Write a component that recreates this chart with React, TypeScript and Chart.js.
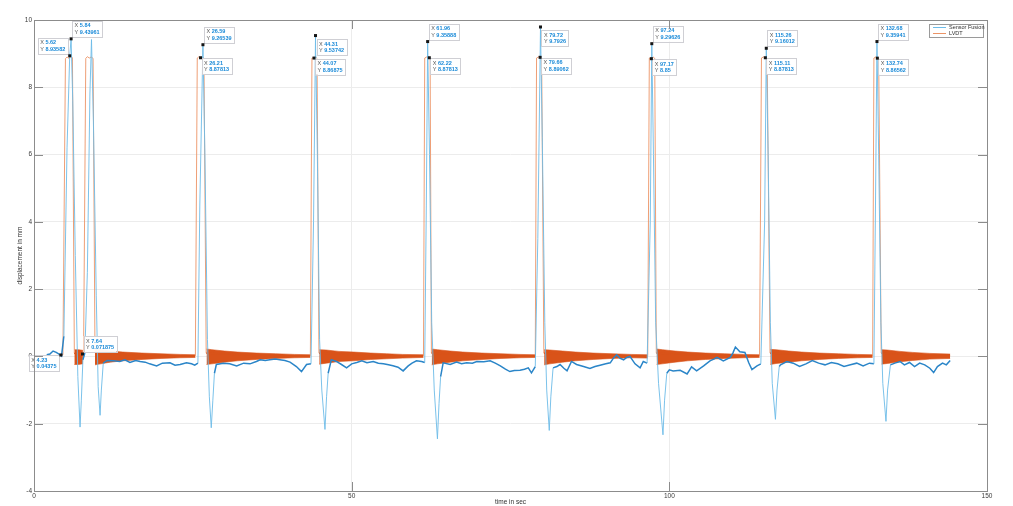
import React, { useEffect, useRef } from 'react';
import { Chart, registerables } from 'chart.js';

Chart.register(...registerables);

const FONT = "'Liberation Sans', Arial, sans-serif";

// Sensor Fusion trace (time in s, displacement in mm)
const sensorT = [
  2.0, 2.5, 3.0, 3.5, 4.0, 4.33, 4.7, 5.2, 5.62, 5.84, 6.1, 6.5, 6.9, 7.25, 7.45, 7.7, 8.0, 8.4, 8.8, 9.05,
  9.35, 9.8, 10.1, 10.4, 10.6, 10.9, 11.5, 12.5, 13.5, 14.3, 15.1, 16.0, 16.7, 17.5, 18.2, 19.3, 20.2, 21.4, 22.2, 23.0,
  24.0, 24.8, 25.3, 25.8, 26.1, 26.59, 26.9, 27.3, 27.6, 27.9, 28.15, 28.4, 28.7, 29.8, 30.8, 31.9, 33.0, 34.0, 35.0, 35.6,
  36.4, 37.1, 38.0, 38.7, 39.5, 40.3, 41.3, 42.1, 42.9, 43.6, 44.0, 44.31, 44.6, 44.95, 45.3, 45.8, 46.05, 46.3, 46.8, 47.6,
  48.4, 49.2, 50.0, 50.8, 51.6, 52.4, 53.4, 54.2, 55.0, 55.8, 56.5, 57.3, 58.1, 58.9, 59.5, 60.2, 61.0, 61.5, 61.75, 61.96,
  62.25, 62.6, 63.0, 63.5, 63.75, 64.0, 64.4, 65.5, 66.5, 67.3, 68.1, 69.0, 69.7, 70.8, 71.8, 72.6, 73.4, 74.2, 74.9, 75.6,
  76.5, 77.2, 77.8, 78.3, 78.9, 79.3, 79.72, 80.0, 80.4, 80.7, 81.1, 81.35, 81.7, 82.3, 82.8, 83.4, 83.9, 84.6, 85.4, 86.5,
  87.5, 88.3, 89.1, 90.0, 90.7, 91.2, 91.7, 92.2, 92.8, 93.3, 93.8, 94.6, 95.4, 95.9, 96.5, 97.0, 97.24, 97.5, 97.85, 98.3,
  99.0, 99.25, 99.6, 100.0, 100.6, 101.7, 102.8, 103.5, 104.3, 105.4, 106.4, 107.0, 107.5, 108.5, 109.6, 110.0, 110.4, 111.1, 111.9, 112.5,
  113.0, 113.8, 114.4, 115.0, 115.26, 115.55, 115.9, 116.2, 116.7, 116.95, 117.3, 117.5, 118.5, 119.5, 120.5, 121.5, 122.5, 123.5, 124.5, 125.5,
  126.5, 127.5, 128.5, 129.5, 130.5, 131.5, 132.2, 132.45, 132.68, 132.95, 133.3, 133.6, 134.1, 134.35, 134.8, 135.5, 136.3, 137.0, 137.8, 138.6,
  139.4, 140.2, 141.0, 141.6, 142.2, 143.0, 143.6, 144.2,
];
const sensorV = [
  0.05, 0.07, 0.16, 0.12, 0.06, 0.01, 0.6, 6.2, 8.93582, 9.43961, 7.6, 3.0, -0.6, -2.1, -1.3, -0.1, 0.1, 2.5, 7.8, 9.42,
  7.0, 1.8, -0.9, -1.75, -1.0, -0.2, -0.12, -0.13, -0.15, -0.1, -0.18, -0.12, -0.15, -0.17, -0.22, -0.28, -0.2, -0.19, -0.26, -0.24,
  -0.19, -0.22, -0.26, -0.2, 4.5, 9.26539, 6.0, 0.5, -1.2, -2.12, -1.3, -0.5, -0.24, -0.2, -0.22, -0.28, -0.2, -0.22, -0.15, -0.1,
  -0.12, -0.1, -0.08, -0.1, -0.12, -0.17, -0.3, -0.45, -0.24, -0.22, 4.0, 9.53742, 6.0, 0.5, -1.0, -2.17, -1.2, -0.5, -0.1, -0.15,
  -0.24, -0.34, -0.22, -0.18, -0.13, -0.19, -0.15, -0.2, -0.22, -0.25, -0.28, -0.32, -0.43, -0.28, -0.2, -0.13, -0.15, -0.18, 4.5, 9.35888,
  6.0, 1.0, -1.0, -2.45, -1.4, -0.6, -0.19, -0.24, -0.17, -0.22, -0.19, -0.2, -0.15, -0.16, -0.13, -0.2, -0.28, -0.38, -0.45, -0.42,
  -0.41, -0.38, -0.34, -0.49, -0.3, 3.5, 9.7926, 6.5, 1.0, -1.0, -2.2, -1.2, -0.34, -0.3, -0.24, -0.35, -0.43, -0.15, -0.24, -0.3,
  -0.36, -0.3, -0.26, -0.22, -0.19, -0.05, 0.05, -0.05, -0.1, -0.03, 0.0, -0.22, -0.34, -0.15, -0.2, 4.0, 9.29626, 6.0, 1.0, -0.8,
  -2.33, -1.3, -0.5, -0.4, -0.43, -0.41, -0.52, -0.31, -0.43, -0.28, -0.13, -0.08, -0.03, -0.13, -0.03, 0.1, 0.28, 0.14, 0.12, -0.19,
  -0.39, -0.28, -0.22, 4.0, 9.16012, 6.0, 1.0, -0.8, -1.87, -1.0, -0.3, -0.25, -0.15, -0.2, -0.3, -0.22, -0.12, -0.2, -0.25, -0.18,
  -0.22, -0.3, -0.25, -0.2, -0.28, -0.2, -0.22, 4.5, 9.35941, 6.0, 1.0, -0.8, -1.93, -1.0, -0.25, -0.2, -0.15, -0.25, -0.18, -0.3,
  -0.2, -0.25, -0.35, -0.48, -0.3, -0.2, -0.25, -0.12,
];

// LVDT trace (pulses and the mean line of the ringing)
const lvdtT = [
  4.23, 4.55, 4.95, 5.2, 5.5, 5.8, 6.05, 6.35, 7.0, 7.64, 7.8, 8.15, 8.4, 8.7, 9.0, 9.3, 9.6,
  17.0, 25.4, 25.7, 25.9, 26.21, 26.5, 26.75, 27.1,
  35.0, 43.5, 43.75, 44.07, 44.3, 44.55, 44.85,
  53.0, 61.3, 61.5, 61.8, 62.22, 62.35, 62.55,
  70.0, 78.9, 79.1, 79.4, 79.66, 79.9, 80.25,
  88.0, 96.6, 96.85, 97.17, 97.45, 97.7, 97.95,
  106.0, 114.2, 114.5, 114.8, 115.11, 115.4, 115.85,
  124.0, 132.0, 132.2, 132.5, 132.74, 132.95, 133.35,
  139.0, 144.2,
];
const lvdtV = [
  0.04375, 0.05, 8.85, 8.9, 8.86, 8.91, 8.88, 0.1, 0.0, 0.071875, 0.05, 8.86, 8.91, 8.87, 8.9, 8.86, 0.1,
  0.02, 0.02, 8.87, 8.9, 8.87813, 8.9, 8.86, 0.1,
  0.02, 0.02, 8.87, 8.86875, 8.9, 8.86, 0.1,
  0.02, 0.02, 8.87, 8.9, 8.87813, 8.86, 0.1,
  0.02, 0.02, 8.87, 8.9, 8.89062, 8.86, 0.1,
  0.02, 0.02, 8.87, 8.85, 8.9, 8.86, 0.1,
  0.02, 0.02, 8.87, 8.9, 8.87813, 8.86, 0.1,
  0.02, 0.02, 8.87, 8.9, 8.86562, 8.86, 0.1,
  0.02, 0.02,
];

// LVDT ringing envelope after each pulse (null = gap between bursts)
const bandT = [
  6.35, 7.0, 7.7, 8.5,
  9.6, 10.5, 12.0, 14.0, 17.0, 20.0, 23.0, 25.4, 26.0,
  27.15, 28.0, 30.0, 32.0, 35.0, 38.0, 41.0, 43.5, 44.0,
  44.9, 46.0, 48.0, 50.3, 53.0, 55.5, 58.0, 61.3, 62.0,
  62.6, 63.5, 65.5, 67.5, 70.5, 73.5, 76.5, 78.9, 79.5,
  80.3, 81.2, 83.2, 85.2, 88.0, 91.0, 94.0, 96.6, 97.2,
  98.0, 98.9, 100.9, 102.9, 105.7, 108.7, 111.7, 114.2, 115.0,
  115.9, 116.8, 118.8, 120.8, 123.6, 126.6, 129.6, 132.0, 132.7,
  133.4, 134.3, 136.3, 138.3, 141.0, 144.2,
];
const bandUp = [
  0.2, 0.2, 0.18, null,
  0.22, 0.2, 0.16, 0.13, 0.1, 0.08, 0.06, 0.05, null,
  0.22, 0.2, 0.16, 0.13, 0.1, 0.08, 0.06, 0.05, null,
  0.2, 0.19, 0.15, 0.13, 0.1, 0.08, 0.06, 0.05, null,
  0.22, 0.2, 0.16, 0.13, 0.1, 0.08, 0.06, 0.05, null,
  0.2, 0.19, 0.16, 0.13, 0.1, 0.08, 0.06, 0.05, null,
  0.22, 0.2, 0.16, 0.13, 0.1, 0.08, 0.06, 0.05, null,
  0.21, 0.2, 0.16, 0.13, 0.1, 0.08, 0.06, 0.05, null,
  0.2, 0.19, 0.15, 0.12, 0.09, 0.07,
];
const bandLo = [
  -0.24, -0.24, -0.22, null,
  -0.25, -0.22, -0.17, -0.13, -0.09, -0.06, -0.04, -0.03, null,
  -0.24, -0.22, -0.17, -0.13, -0.09, -0.06, -0.04, -0.03, null,
  -0.23, -0.2, -0.15, -0.13, -0.09, -0.07, -0.05, -0.03, null,
  -0.25, -0.22, -0.17, -0.13, -0.09, -0.06, -0.04, -0.03, null,
  -0.25, -0.22, -0.17, -0.13, -0.09, -0.06, -0.04, -0.05, null,
  -0.24, -0.22, -0.17, -0.13, -0.09, -0.06, -0.04, -0.03, null,
  -0.24, -0.21, -0.17, -0.13, -0.09, -0.06, -0.04, -0.03, null,
  -0.23, -0.21, -0.16, -0.12, -0.08, -0.06,
];

// Data tips
const tipX = [4.23, 5.62, 5.84, 7.64, 26.59, 26.21, 44.31, 44.07, 61.96, 62.22, 79.72, 79.66, 97.24, 97.17, 115.26, 115.11, 132.68, 132.74];
const tipY = [0.04375, 8.93582, 9.43961, 0.071875, 9.26539, 8.87813, 9.53742, 8.86875, 9.35888, 8.87813, 9.7926, 8.89062, 9.29626, 8.85, 9.16012, 8.87813, 9.35941, 8.86562];
const tipSide = ['bl', 'tl', 'tr', 'tr', 'tr', 'br', 'br', 'br', 'tr', 'br', 'br', 'br', 'tr', 'br', 'tr', 'br', 'tr', 'br'];

const xTicks = [0, 50, 100, 150];
const yTicks = [-4, -2, 0, 2, 4, 6, 8, 10];
const seriesNames = ['Sensor Fusion', 'LVDT'];
const xTitle = 'time in sec';
const yTitle = 'displacement in mm';

const BLUE_DARK = '#2a85c8';
const BLUE_LIGHT = '#6cbbe8';
const ORANGE = '#D95319';
const ORANGE_LIGHT = '#ec9466';

const near0 = (ctx: any) => Math.abs(ctx.p0.parsed.y) < 0.9 && Math.abs(ctx.p1.parsed.y) < 0.9;

const frame = {
  id: 'frame',
  afterDraw(chart: any) {
    const { ctx, chartArea: a, scales } = chart;
    ctx.save();
    ctx.strokeStyle = '#8c8c8c';
    ctx.lineWidth = 1;
    ctx.strokeRect(Math.round(a.left) + 0.5, Math.round(a.top) + 0.5, Math.round(a.right - a.left), Math.round(a.bottom - a.top));
    const tl = 9;
    ctx.beginPath();
    xTicks.forEach((v) => {
      const px = Math.round(scales.x.getPixelForValue(v)) + 0.5;
      ctx.moveTo(px, a.bottom); ctx.lineTo(px, a.bottom - tl);
      ctx.moveTo(px, a.top); ctx.lineTo(px, a.top + tl);
    });
    yTicks.forEach((v) => {
      const py = Math.round(scales.y.getPixelForValue(v)) + 0.5;
      ctx.moveTo(a.left, py); ctx.lineTo(a.left + tl, py);
      ctx.moveTo(a.right, py); ctx.lineTo(a.right - tl, py);
    });
    ctx.stroke();

    // legend box
    const bx = a.right - 58, by = a.top + 4, bw = 54, bh = 13;
    ctx.fillStyle = '#ffffff';
    ctx.fillRect(bx, by, bw, bh);
    ctx.strokeStyle = '#9a9a9a';
    ctx.strokeRect(bx + 0.5, by + 0.5, bw, bh);
    const colors = [BLUE_LIGHT, ORANGE_LIGHT];
    ctx.font = `5.5px ${FONT}`;
    ctx.textBaseline = 'middle';
    ctx.textAlign = 'left';
    seriesNames.forEach((name, i) => {
      const ry = by + 3.5 + i * 6;
      ctx.strokeStyle = colors[i];
      ctx.lineWidth = 1;
      ctx.beginPath();
      ctx.moveTo(bx + 4, ry); ctx.lineTo(bx + 17, ry);
      ctx.stroke();
      ctx.fillStyle = '#303030';
      ctx.fillText(name, bx + 20, ry);
    });
    ctx.restore();
  },
};

const tips = {
  id: 'tips',
  afterDatasetsDraw(chart: any) {
    const { ctx, scales } = chart;
    ctx.save();
    tipX.forEach((tx, i) => {
      const px = scales.x.getPixelForValue(tx);
      const py = scales.y.getPixelForValue(tipY[i]);
      const rows = [['X', String(tx)], ['Y', String(tipY[i])]];
      ctx.font = `5.5px ${FONT}`;
      const lw = ctx.measureText('X ').width;
      ctx.font = `bold 5.5px ${FONT}`;
      const vw = Math.max(...rows.map((r) => ctx.measureText(r[1]).width));
      const w = Math.round(lw + vw + 5);
      const h = 16;
      const side = tipSide[i];
      const bx = side[1] === 'r' ? px + 1 : px - 2 - w;
      const by = side[0] === 't' ? py - 2 - h : py + (tipY[i] > 9.4 ? 3.5 : 0.5);
      ctx.fillStyle = 'rgba(255,255,255,0.95)';
      ctx.fillRect(bx, by, w, h);
      ctx.strokeStyle = '#cfcfd4';
      ctx.lineWidth = 1;
      ctx.strokeRect(Math.round(bx) + 0.5, Math.round(by) + 0.5, w, h);
      ctx.textBaseline = 'middle';
      ctx.textAlign = 'left';
      rows.forEach((r, k) => {
        const ty = by + 5 + k * 6.5;
        ctx.font = `5.5px ${FONT}`;
        ctx.fillStyle = '#555555';
        ctx.fillText(r[0], bx + 2.5, ty);
        ctx.font = `bold 5.5px ${FONT}`;
        ctx.fillStyle = '#1a8ad8';
        ctx.fillText(r[1], bx + 2.5 + lw, ty);
      });
      ctx.fillStyle = '#151515';
      ctx.fillRect(px - 1.5, py - 1.5, 3, 3);
    });
    ctx.restore();
  },
};

export default function App() {
  const ref = useRef<HTMLCanvasElement | null>(null);
  useEffect(() => {
    if (!ref.current) return;
    const sensorData = sensorT.map((x, i) => ({ x, y: sensorV[i] }));
    const lvdtData = lvdtT.map((x, i) => ({ x, y: lvdtV[i] }));
    const upData = bandT.map((x, i) => ({ x, y: bandUp[i] }));
    const loData = bandT.map((x, i) => ({ x, y: bandLo[i] }));
    const tickFont = { family: FONT, size: 6.5 };
    const chart = new Chart(ref.current, {
      type: 'line',
      data: {
        datasets: [
          {
            label: seriesNames[0],
            data: sensorData,
            borderColor: BLUE_DARK,
            borderWidth: 1,
            pointRadius: 0,
            fill: false,
            tension: 0,
            segment: {
              borderColor: (c: any) => (near0(c) ? BLUE_DARK : BLUE_LIGHT),
              borderWidth: (c: any) => (near0(c) ? 1.5 : 0.9),
            },
          },
          {
            label: seriesNames[1],
            data: lvdtData,
            borderColor: ORANGE,
            borderWidth: 1,
            pointRadius: 0,
            fill: false,
            tension: 0,
            segment: {
              borderColor: (c: any) => (near0(c) ? ORANGE : ORANGE_LIGHT),
              borderWidth: (c: any) => (near0(c) ? 1.2 : 0.9),
            },
          },
          {
            label: 'LVDT ringing upper',
            data: upData,
            borderColor: ORANGE,
            borderWidth: 0.6,
            pointRadius: 0,
            fill: false,
            spanGaps: false,
          },
          {
            label: 'LVDT ringing lower',
            data: loData,
            borderColor: ORANGE,
            borderWidth: 0.6,
            pointRadius: 0,
            backgroundColor: ORANGE,
            fill: '-1',
            spanGaps: false,
          },
        ],
      },
      options: {
        animation: false,
        responsive: true,
        maintainAspectRatio: false,
        layout: { padding: { top: 20, right: 26, left: 0, bottom: 0 } },
        plugins: { legend: { display: false }, tooltip: { enabled: false } },
        scales: {
          x: {
            type: 'linear',
            min: 0,
            max: 150,
            afterBuildTicks: (s: any) => { s.ticks = xTicks.map((v) => ({ value: v })); },
            afterFit: (s: any) => { s.height = 15; },
            grid: { color: '#ececec', lineWidth: 1, drawTicks: false },
            border: { display: false },
            ticks: { font: tickFont, color: '#3a3a3a', padding: 1.5, maxRotation: 0, autoSkip: false },
            title: { display: true, text: xTitle, font: tickFont, color: '#303030', padding: { top: 0, bottom: 0 } },
          },
          y: {
            type: 'linear',
            min: -4,
            max: 10,
            afterBuildTicks: (s: any) => { s.ticks = yTicks.map((v) => ({ value: v })); },
            afterFit: (s: any) => { s.width = 34; },
            grid: { color: '#ececec', lineWidth: 1, drawTicks: false },
            border: { display: false },
            ticks: { font: tickFont, color: '#3a3a3a', padding: 2, autoSkip: false },
            title: { display: true, text: yTitle, font: tickFont, color: '#303030', padding: { top: 16, bottom: 0 } },
          },
        },
      },
      plugins: [tips, frame],
    } as any);
    return () => chart.destroy();
  }, []);
  return (
    <div style={{ position: 'fixed', left: 0, top: 0, width: 1013, height: 506, background: '#ffffff' }}>
      <canvas ref={ref} />
    </div>
  );
}
